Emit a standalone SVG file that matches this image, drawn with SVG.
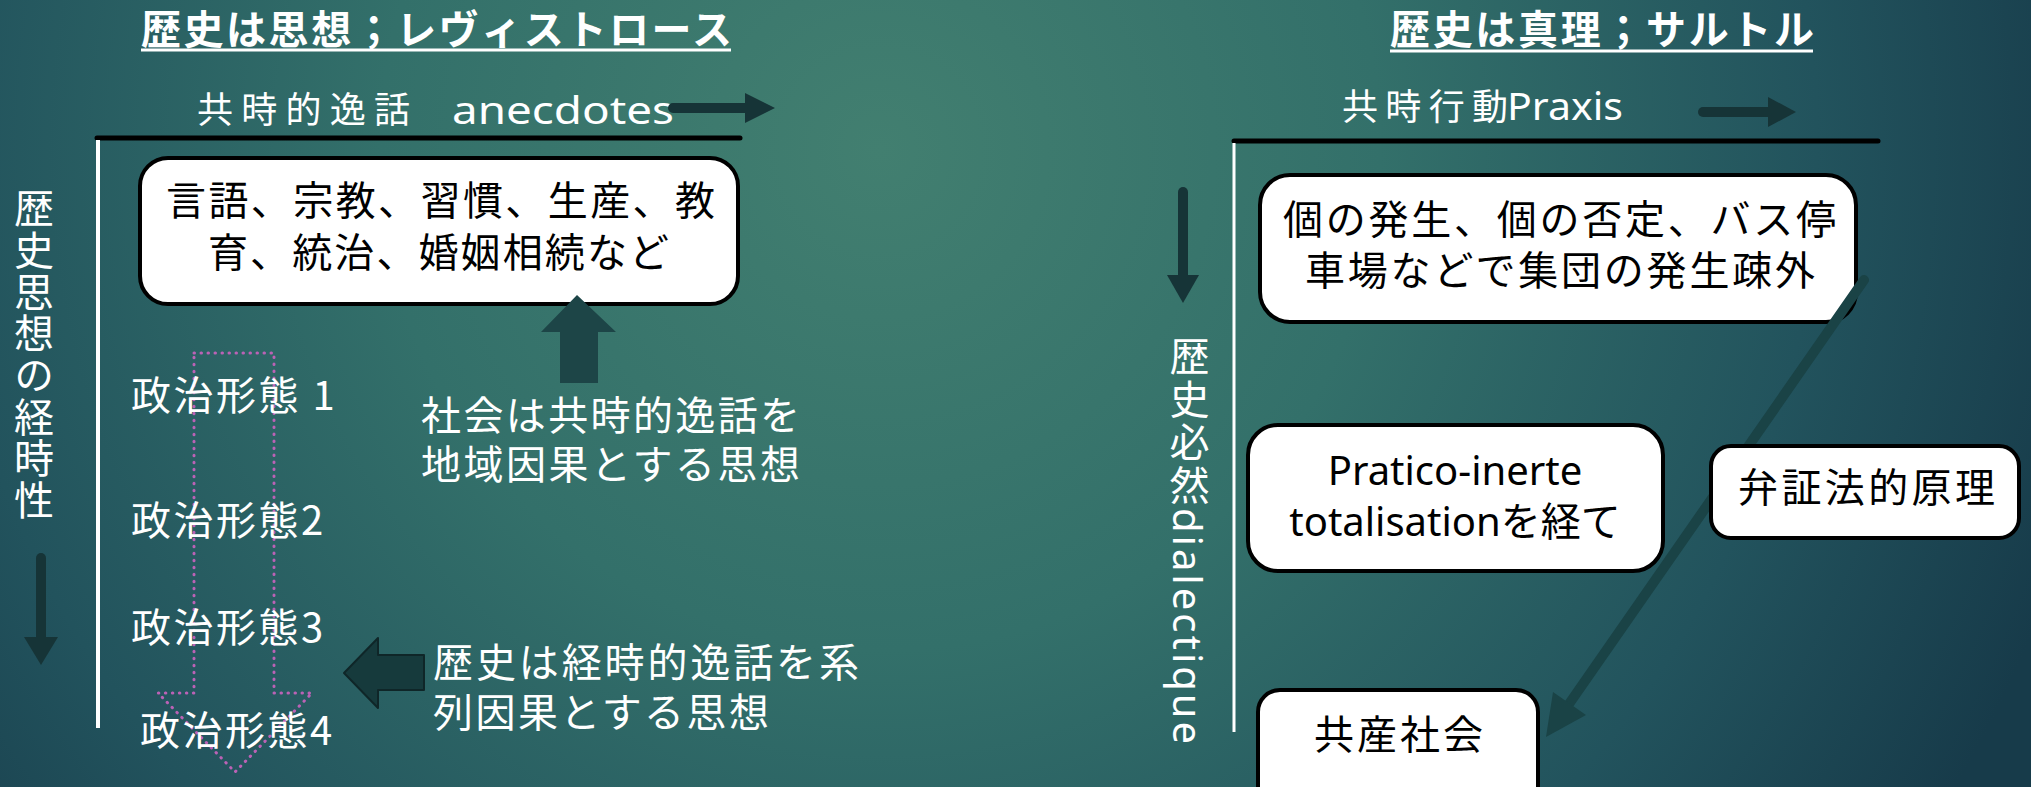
<svg xmlns="http://www.w3.org/2000/svg" width="2031" height="787" viewBox="0 0 2031 787">
<defs>
  <radialGradient id="bg" gradientUnits="userSpaceOnUse" cx="880" cy="150" r="1250">
    <stop offset="0" stop-color="#427f70"/>
    <stop offset="0.4" stop-color="#33706a"/>
    <stop offset="0.75" stop-color="#22535d"/>
    <stop offset="1" stop-color="#173b4a"/>
  </radialGradient>
  <style>
    .jp { font-family: "Noto Sans CJK JP", sans-serif; }
    .lat { font-family: "Noto Sans", "Noto Sans CJK JP", sans-serif; }
    .ttl { font-size: 40px; font-weight: 700; fill: #fff; }
    .wt { fill: #fff; font-size: 40px; }
    .bt { fill: #000; font-size: 40px; }
    .box { fill: #fff; stroke: #000; stroke-width: 4; }
    .ul { stroke: #fff; stroke-width: 3; }
    .axis { stroke: #000; stroke-width: 5; stroke-linecap: round; }
    .vaxis { stroke: #fff; stroke-width: 4; }
    .shaft { stroke: #163437; stroke-width: 10; stroke-linecap: round; }
    .head { fill: #163437; }
    .vert { writing-mode: vertical-rl; }
  </style>
</defs>
<rect width="2031" height="787" fill="url(#bg)"/>

<!-- Left title -->
<g id="title-left">
  <text class="jp ttl" x="141" y="44" textLength="591">歴史は思想；レヴィストロース</text>
  <line class="ul" x1="141" y1="50" x2="731" y2="50"/>
</g>
<!-- Right title -->
<g id="title-right">
  <text class="jp ttl" x="1390" y="44" textLength="424">歴史は真理；サルトル</text>
  <line class="ul" x1="1390" y1="51" x2="1813" y2="51"/>
</g>

<!-- Left axes -->
<g id="axis-left">
  <text class="jp" fill="#fff" font-size="36" y="123"><tspan x="197" textLength="213">共時的逸話</tspan></text>
  <text class="lat" fill="#fff" font-size="38" x="452" y="124" textLength="222" lengthAdjust="spacingAndGlyphs">anecdotes</text>
  <line class="axis" x1="97" y1="138" x2="740" y2="138"/>
  <line class="vaxis" x1="98" y1="140" x2="98" y2="728"/>
  <text class="jp wt vert" x="34" y="188" letter-spacing="1.7">歴史思想の経時性</text>
</g>

<!-- Right axes -->
<g id="axis-right">
  <text class="jp" fill="#fff" font-size="36" x="1342" y="120" textLength="166">共時行動</text>
  <text class="lat" fill="#fff" font-size="38" x="1507" y="120" textLength="116" lengthAdjust="spacingAndGlyphs">Praxis</text>
  <line class="axis" x1="1234" y1="141" x2="1878" y2="141"/>
  <line x1="1234" y1="143" x2="1234" y2="732" stroke="#fff" stroke-width="3"/>
  <text class="lat wt vert" x="1188" y="336" letter-spacing="3">歴史必然dialectique</text>
</g>

<!-- Box 1 -->
<g id="node-customs">
  <rect class="box" x="140" y="158" width="598" height="146" rx="28"/>
  <text class="jp bt" x="166" y="215" textLength="549">言語、宗教、習慣、生産、教</text>
  <text class="jp bt" x="208" y="267" textLength="461">育、統治、婚姻相続など</text>
</g>

<!-- Box A -->
<g id="node-individual">
  <rect class="box" x="1260" y="175" width="596" height="147" rx="30"/>
  <text class="jp bt" x="1283" y="234" textLength="553">個の発生、個の否定、バス停</text>
  <text class="jp bt" x="1305" y="285" textLength="510">車場などで集団の発生疎外</text>
</g>

<!-- Connectors -->
<g id="connectors">
  <!-- anecdotes arrow -->
  <line class="shaft" x1="673" y1="108" x2="748" y2="108" stroke-linecap="butt"/>
  <polygon class="head" points="745,93 775,108 745,123"/>
  <!-- Praxis arrow -->
  <line class="shaft" x1="1703" y1="112" x2="1770" y2="112"/>
  <polygon class="head" points="1768,97 1796,112 1768,127"/>
  <!-- left down arrow -->
  <line class="shaft" x1="41" y1="558" x2="41" y2="640"/>
  <polygon class="head" points="24,637 58,637 41,665"/>
  <!-- right down arrow -->
  <line class="shaft" x1="1183" y1="192" x2="1183" y2="277"/>
  <polygon class="head" points="1167,275 1199,275 1183,303"/>
  <!-- up block arrow -->
  <polygon points="577,295 616,332 598,332 598,383 560,383 560,332 541,332" fill="#1d4547"/>
  <!-- left block arrow -->
  <polygon points="344,673 378,638 378,655 424,655 424,690 378,690 378,708" fill="#163a3c" stroke="#0f2628" stroke-width="2" stroke-linejoin="round"/>
  <!-- pink dotted block arrow -->
  <path d="M194,353 H274 V693 H312 L235,772 L158,693 H194 Z" fill="none" stroke="#bb62b6" stroke-width="3" stroke-dasharray="0.5 6.5" stroke-linecap="round"/>
  <!-- diagonal dialectic arrow -->
  <line x1="1864" y1="280" x2="1569" y2="704" stroke="#1a4346" stroke-width="10" stroke-linecap="round"/>
  <polygon points="1546,737 1586,715 1553,692" fill="#1a4346"/>
</g>

<!-- Pratico box -->
<g id="node-pratico">
  <rect class="box" x="1248" y="425" width="415" height="146" rx="30"/>
  <text class="lat bt" x="1455" y="485" font-size="42" text-anchor="middle">Pratico-inerte</text>
  <text class="lat bt" x="1455" y="536" font-size="42" text-anchor="middle">totalisationを経て</text>
</g>

<!-- Dialectic principle box -->
<g id="node-dialectic">
  <rect class="box" x="1711" y="446" width="308" height="92" rx="20"/>
  <text class="jp bt" x="1738" y="502" textLength="257">弁証法的原理</text>
</g>

<!-- Communist society box -->
<g id="node-communism">
  <rect class="box" x="1258" y="690" width="280" height="120" rx="22"/>
  <text class="jp bt" x="1314" y="749" textLength="169">共産社会</text>
</g>

<!-- Political forms -->
<g id="node-forms">
  <text class="jp wt" x="131" y="410" letter-spacing="2.5">政治形態 1</text>
  <text class="jp wt" x="131" y="535" letter-spacing="2.5">政治形態2</text>
  <text class="jp wt" x="131" y="642" letter-spacing="2.5">政治形態3</text>
  <text class="jp wt" x="140" y="745" letter-spacing="2.5">政治形態4</text>
</g>

<!-- Explanations -->
<g id="note-synchronic">
  <text class="jp wt" x="421" y="430" textLength="379">社会は共時的逸話を</text>
  <text class="jp wt" x="421" y="479" textLength="379">地域因果とする思想</text>
</g>
<g id="note-diachronic">
  <text class="jp wt" x="433" y="677" textLength="426">歴史は経時的逸話を系</text>
  <text class="jp wt" x="433" y="727" textLength="336">列因果とする思想</text>
</g>
</svg>
